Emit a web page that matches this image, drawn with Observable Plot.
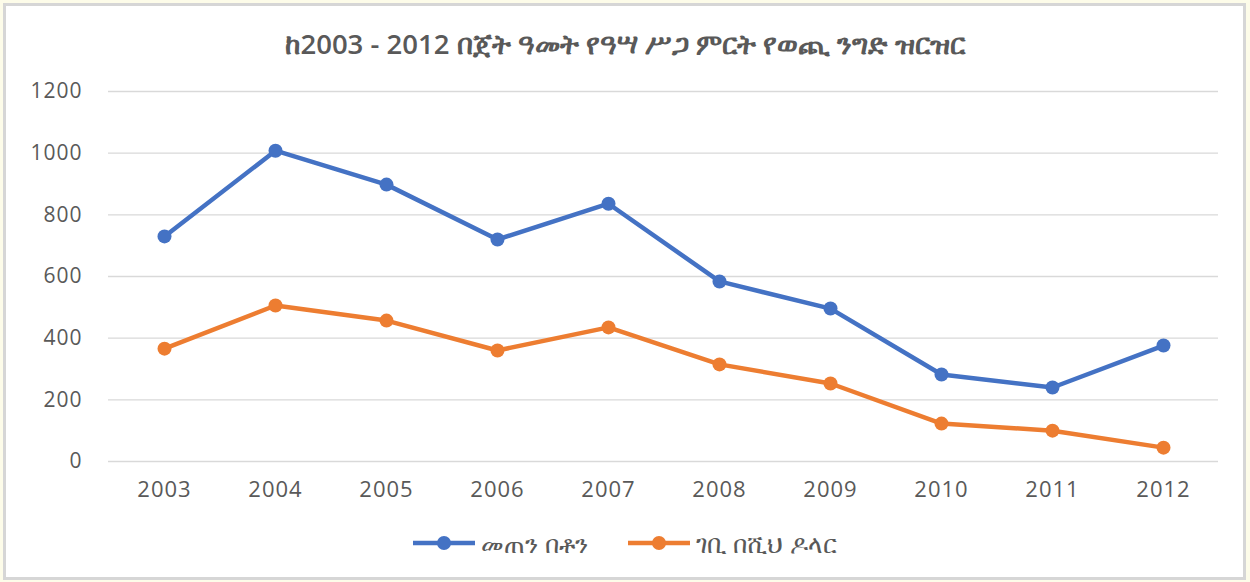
<!DOCTYPE html>
<html>
<head>
<meta charset="utf-8">
<script src="https://cdn.jsdelivr.net/npm/d3@7"></script>
<script src="https://cdn.jsdelivr.net/npm/@observablehq/plot@0.6"></script>
<style>
  html, body { margin: 0; padding: 0; }
  body { width: 1250px; height: 582px; background: #fdfce9; position: relative; overflow: hidden;
         font-family: "Open Sans", "Noto Sans", "DejaVu Sans", sans-serif; color: #595959; }
  #frame { position: absolute; left: 3px; top: 3px; width: 1243px; height: 577px; box-sizing: border-box;
           border: 3px solid #d6d6d6; background: #fff; }
  #title { position: absolute; left: 0; width: 1250px; top: 25px; text-align: center; font-size: 27.5px;
           font-weight: 600; color: #595959; white-space: nowrap; }
  #chart { position: absolute; left: 0; top: 70px; }
  #legend { position: absolute; left: 0; width: 1250px; top: 526px; display: flex; justify-content: center;
            align-items: center; font-size: 25px; color: #595959; }
  .item { display: flex; align-items: center; margin: 0 20px; }
  .item svg { margin-right: 6px; }
</style>
</head>
<body>
<div id="frame"></div>
<div id="title">ከ2003 - 2012 በጀት ዓመት የዓሣ ሥጋ ምርት የወጪ ንግድ ዝርዝር</div>
<div id="chart"></div>
<div id="legend"></div>
<script>
const years = ["2003","2004","2005","2006","2007","2008","2009","2010","2011","2012"];
const seriesNames = ["መጠን በቶን", "ገቢ በሺህ ዶላር"];
const volumeTons = [730, 1008, 898, 720, 836, 584, 496, 282, 240, 376];
const revenueThousandUSD = [366, 506, 457, 360, 435, 315, 253, 123, 100, 45];
const seriesColors = ["#4472c4", "#ed7d31"];
const yTicks = [0, 200, 400, 600, 800, 1000, 1200];

const data = [];
years.forEach((y, i) => {
  data.push({year: y, value: volumeTons[i], series: seriesNames[0]});
  data.push({year: y, value: revenueThousandUSD[i], series: seriesNames[1]});
});

const plot = Plot.plot({
  width: 1250,
  height: 450,
  marginLeft: 108,
  marginRight: 32,
  marginTop: 21,
  marginBottom: 59,
  style: {fontFamily: "'Open Sans', 'Noto Sans', sans-serif", fontSize: "20px", color: "#595959", background: "transparent"},
  x: {type: "point", domain: years, padding: 0.5, label: null},
  y: {domain: [0, 1200], label: null},
  color: {domain: seriesNames, range: seriesColors},
  marks: [
    Plot.gridY(yTicks, {stroke: "#d9d9d9", strokeOpacity: 1, strokeWidth: 1.3}),
    Plot.axisY(yTicks, {tickSize: 0, tickPadding: 26, fontSize: 21, fill: "#595959", label: null, tickFormat: d => String(d)}),
    Plot.axisX({tickSize: 0, tickPadding: 20, fontSize: 22, fill: "#595959", label: null}),
    Plot.line(data, {x: "year", y: "value", stroke: "series", strokeWidth: 4.5, strokeLinejoin: "round"}),
    Plot.dot(data, {x: "year", y: "value", fill: "series", r: 7})
  ]
});
plot.querySelectorAll("text").forEach(t => t.setAttribute("letter-spacing", "1"));
document.getElementById("chart").appendChild(plot);

const legend = document.getElementById("legend");
seriesNames.forEach((name, i) => {
  const item = document.createElement("div");
  item.className = "item";
  item.innerHTML = `<svg width="62" height="16"><line x1="0" y1="8" x2="62" y2="8" stroke="${seriesColors[i]}" stroke-width="4.5"/><circle cx="31" cy="8" r="7" fill="${seriesColors[i]}"/></svg><span>${name}</span>`;
  legend.appendChild(item);
});
</script>
</body>
</html>
